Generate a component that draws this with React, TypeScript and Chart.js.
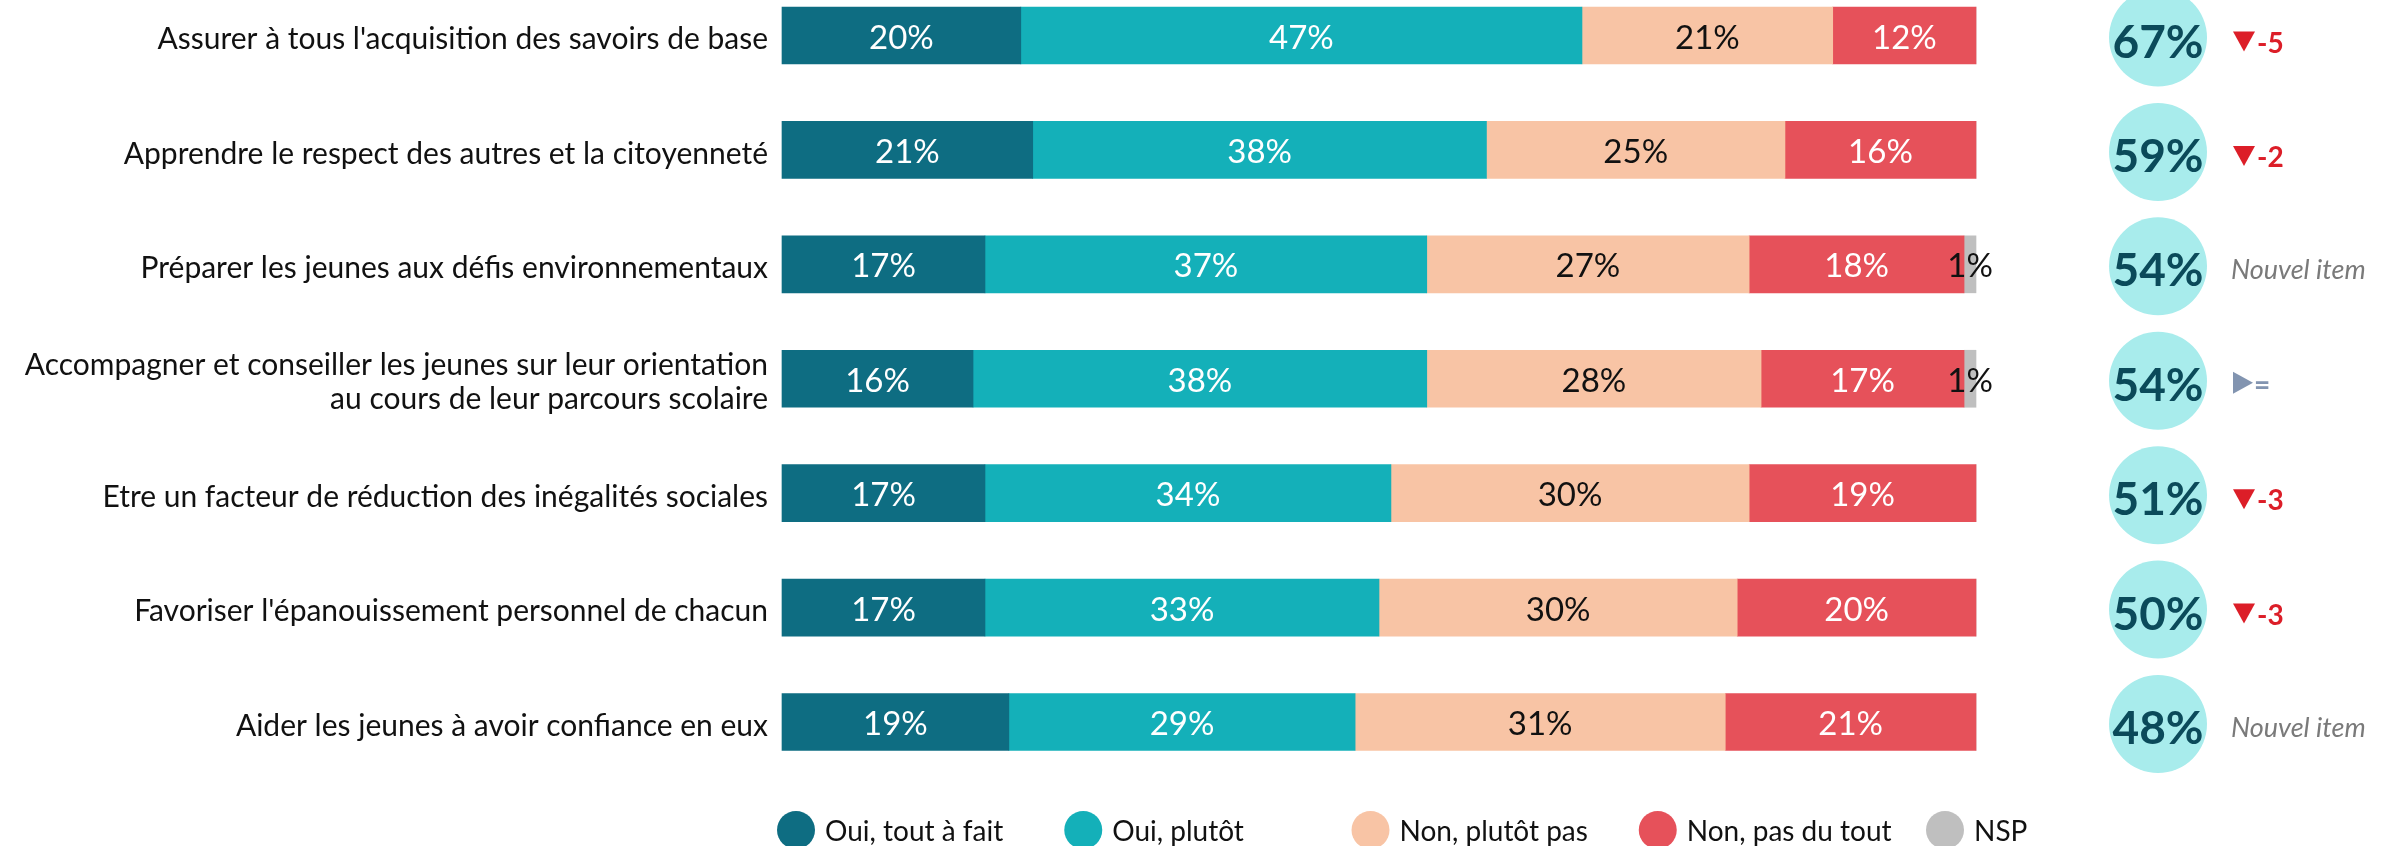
import React, { useEffect, useRef } from "react";
import { Chart, registerables } from "chart.js";

Chart.register(...registerables);

// ---------- DATA ----------
const categories: (string | string[])[] = [
  "Assurer à tous l'acquisition des savoirs de base",
  "Apprendre le respect des autres et la citoyenneté",
  "Préparer les jeunes aux défis environnementaux",
  ["Accompagner et conseiller les jeunes sur leur orientation", "au cours de leur parcours scolaire"],
  "Etre un facteur de réduction des inégalités sociales",
  "Favoriser l'épanouissement personnel de chacun",
  "Aider les jeunes à avoir confiance en eux",
];
const seriesNames = ["Oui, tout à fait", "Oui, plutôt", "Non, plutôt pas", "Non, pas du tout", "NSP"];
const ouiToutAFait = [20, 21, 17, 16, 17, 17, 19];
const ouiPlutot = [47, 38, 37, 38, 34, 33, 29];
const nonPlutotPas = [21, 25, 27, 28, 30, 30, 31];
const nonPasDuTout = [12, 16, 18, 17, 19, 20, 21];
const nsp = [0, 0, 1, 1, 0, 0, 0];
const totalOui = [67, 59, 54, 54, 51, 50, 48];
const evolution: (number | null)[] = [-5, -2, null, 0, -3, -3, null];

const seriesColors = ["#0e6d82", "#14b0b9", "#f8c4a5", "#e6515a", "#bfbfbf"];
const labelColors = ["#ffffff", "#ffffff", "#111111", "#ffffff", "#111111"];
const FONT = "Lato, 'Open Sans', sans-serif";

// ---------- PLUGINS ----------
const segmentLabels = {
  id: "segmentLabels",
  afterDatasetsDraw(chart: any) {
    const ctx = chart.ctx;
    ctx.save();
    chart.data.datasets.forEach((ds: any, di: number) => {
      const meta = chart.getDatasetMeta(di);
      meta.data.forEach((el: any, i: number) => {
        const v = ds.data[i];
        if (!v) return;
        const { x, base, y } = el.getProps(["x", "base", "y"], true);
        ctx.font = `33px ${FONT}`;
        ctx.fillStyle = labelColors[di];
        ctx.textAlign = "center";
        ctx.textBaseline = "alphabetic";
        ctx.fillText(v + "%", (x + base) / 2, y + 13);
      });
    });
    ctx.restore();
  },
};

const rightSide = {
  id: "rightSide",
  afterDraw(chart: any) {
    const ctx = chart.ctx;
    const yScale = chart.scales.y;
    const cx = 2158;
    ctx.save();
    totalOui.forEach((t, i) => {
      const y = yScale.getPixelForValue(i);
      ctx.beginPath();
      ctx.arc(cx, y + 2, 49, 0, Math.PI * 2);
      ctx.fillStyle = "#a8ecec";
      ctx.fill();
      ctx.font = `bold 46px ${FONT}`;
      ctx.fillStyle = "#0b4a5a";
      ctx.textAlign = "center";
      ctx.textBaseline = "alphabetic";
      ctx.fillText(t + "%", cx, y + 22);

      const ev = evolution[i];
      const tx = 2233;
      ctx.textAlign = "left";
      if (ev === null) {
        ctx.font = `italic 27px ${FONT}`;
        ctx.fillStyle = "#7a7a7a";
        ctx.fillText("Nouvel item", 2231, y + 15);
      } else if (ev === 0) {
        ctx.fillStyle = "#8294b0";
        ctx.beginPath();
        ctx.moveTo(tx, y - 7);
        ctx.lineTo(tx + 20, y + 4);
        ctx.lineTo(tx, y + 15);
        ctx.closePath();
        ctx.fill();
        ctx.font = `bold 28px ${FONT}`;
        ctx.fillText("=", tx + 21, y + 16);
      } else {
        ctx.fillStyle = "#dc1e28";
        ctx.beginPath();
        ctx.moveTo(tx, y - 4);
        ctx.lineTo(tx + 22, y - 4);
        ctx.lineTo(tx + 11, y + 16);
        ctx.closePath();
        ctx.fill();
        ctx.font = `bold 28px ${FONT}`;
        ctx.fillText(String(ev), tx + 24, y + 17);
      }
    });
    ctx.restore();
  },
};

const customLegend = {
  id: "customLegend",
  afterDraw(chart: any) {
    const ctx = chart.ctx;
    ctx.save();
    chart.data.datasets.forEach((ds: any, i: number) => {
      const cx = 796 + i * 287.25;
      const cy = 830;
      ctx.beginPath();
      ctx.arc(cx, cy, 19, 0, Math.PI * 2);
      ctx.fillStyle = ds.backgroundColor;
      ctx.fill();
      ctx.font = `28px ${FONT}`;
      ctx.fillStyle = "#111111";
      ctx.textAlign = "left";
      ctx.textBaseline = "alphabetic";
      ctx.fillText(ds.label, cx + 29, 841);
    });
    ctx.restore();
  },
};

export default function App() {
  const ref = useRef<HTMLCanvasElement>(null);

  useEffect(() => {
    if (!ref.current) return;
    const seriesData = [ouiToutAFait, ouiPlutot, nonPlutotPas, nonPasDuTout, nsp];
    const chart = new Chart(ref.current, {
      type: "bar",
      data: {
        labels: categories as any,
        datasets: seriesData.map((d, i) => ({
          label: seriesNames[i],
          data: d,
          backgroundColor: seriesColors[i],
          borderWidth: 0,
          barThickness: 57,
          clip: false as any,
        })),
      },
      options: {
        indexAxis: "y",
        animation: false,
        responsive: false,
        devicePixelRatio: 1,
        layout: { padding: { left: 0, right: 418, top: 35.5, bottom: 124 } },
        plugins: {
          legend: { display: false },
          tooltip: { enabled: false },
        },
        scales: {
          x: {
            stacked: true,
            min: 0,
            max: 100,
            display: false,
          },
          y: {
            stacked: true,
            offset: false,
            grid: { display: false, drawTicks: false },
            border: { display: false },
            ticks: {
              color: "#111111",
              autoSkip: false,
              padding: 14,
              labelOffset: 4,
              font: { family: FONT, size: 30, lineHeight: 1.13 },
            },
            afterFit: (scale: any) => {
              scale.width = 782;
            },
          },
        },
      },
      plugins: [segmentLabels, rightSide, customLegend],
    });
    return () => chart.destroy();
  }, []);

  return (
    <div style={{ position: "fixed", left: 0, top: 0, width: 2394, height: 846, overflow: "hidden", background: "#ffffff" }}>
      <canvas ref={ref} width={2394} height={846} style={{ width: 2394, height: 846, display: "block" }} />
    </div>
  );
}
